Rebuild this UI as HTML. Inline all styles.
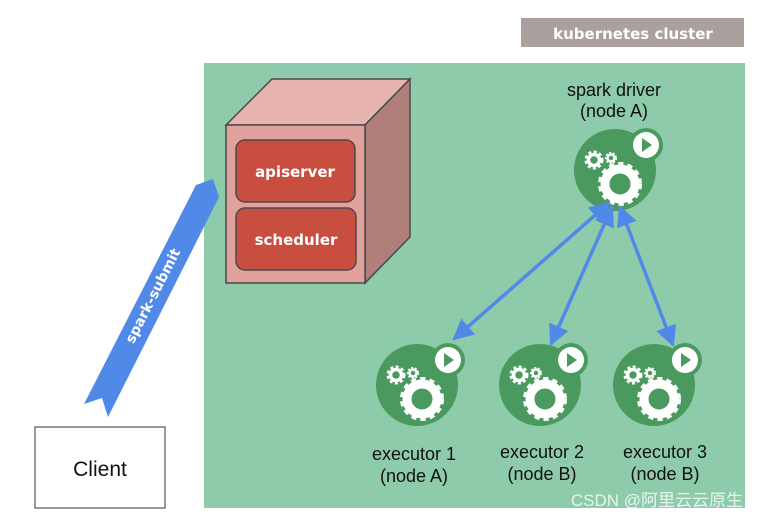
<!DOCTYPE html>
<html><head><meta charset="utf-8"><style>
html,body{margin:0;padding:0;background:#fff;}
svg{display:block;}
text{font-family:"Liberation Sans",sans-serif;}
</style></head><body>
<svg width="758" height="520" viewBox="0 0 758 520" xmlns="http://www.w3.org/2000/svg">
<defs>
<g id="node">
  <circle cx="0" cy="0" r="41" fill="#4a9a60"/>
  <circle cx="31" cy="-25" r="17" fill="#4a9a60"/>
  <circle cx="31" cy="-25" r="13" fill="#fff"/>
  <polygon points="27,-32 27,-18 37,-25" fill="#4a9a60"/>
  <circle cx="5" cy="14" r="15" fill="none" stroke="#fff" stroke-width="9"/>
  <circle cx="5" cy="14" r="19.5" fill="none" stroke="#fff" stroke-width="5" stroke-dasharray="5 4"/>
  <circle cx="-21" cy="-10" r="5.5" fill="none" stroke="#fff" stroke-width="3.5"/>
  <circle cx="-21" cy="-10" r="8" fill="none" stroke="#fff" stroke-width="3" stroke-dasharray="3 2.3"/>
  <circle cx="-4" cy="-12" r="3.5" fill="none" stroke="#fff" stroke-width="2.5"/>
  <circle cx="-4" cy="-12" r="5" fill="none" stroke="#fff" stroke-width="2" stroke-dasharray="2 1.6"/>
</g>
<marker id="ah" viewBox="0 0 10 10" refX="9" refY="5" markerWidth="6" markerHeight="6" orient="auto-start-reverse" markerUnits="strokeWidth">
  <path d="M0,0 L10,5 L0,10 z" fill="#5189e8"/>
</marker>
</defs>
<rect x="521" y="18" width="223" height="29" fill="#aaa09e"/>
<text x="633" y="39" text-anchor="middle" fill="#fff" font-size="15" font-weight="bold" style="font-family:'DejaVu Sans',sans-serif">kubernetes cluster</text>
<rect x="204" y="63" width="541" height="445" fill="#8ecbab"/>
<polygon points="226,125 272,79 410,79 365,125" fill="#e6b3af" stroke="#4a4a4a" stroke-width="1.5"/>
<polygon points="365,125 410,79 410,237 365,283" fill="#b07f7a" stroke="#4a4a4a" stroke-width="1.5"/>
<rect x="226" y="125" width="139" height="158" fill="#e1a19c" stroke="#4a4a4a" stroke-width="1.5"/>
<rect x="236" y="140" width="119" height="62" rx="9" fill="#c84e40" stroke="#4a4a4a" stroke-width="1.5"/>
<rect x="236" y="208" width="120" height="62" rx="9" fill="#c84e40" stroke="#4a4a4a" stroke-width="1.5"/>
<text x="295" y="177" text-anchor="middle" fill="#fff" font-size="15" font-weight="bold" style="font-family:'DejaVu Sans',sans-serif">apiserver</text>
<text x="296" y="245" text-anchor="middle" fill="#fff" font-size="15" font-weight="bold" style="font-family:'DejaVu Sans',sans-serif">scheduler</text>
<polygon points="196,185 213,179 219,197 108,417 102,398 84,404" fill="#5189e8"/>
<text transform="translate(157,298) rotate(-63)" text-anchor="middle" fill="#fff" font-size="14" font-weight="bold" style="font-family:'DejaVu Sans',sans-serif">spark-submit</text>
<rect x="35" y="427" width="130" height="81" fill="#fff" stroke="#555" stroke-width="1.2"/>
<text x="100" y="476" text-anchor="middle" font-size="21" fill="#111">Client</text>
<text x="614" y="96" text-anchor="middle" font-size="18" fill="#111">spark driver</text>
<text x="614" y="117" text-anchor="middle" font-size="18" fill="#111">(node A)</text>
<use href="#node" x="615" y="170"/>
<use href="#node" x="417" y="385"/>
<use href="#node" x="540" y="385"/>
<use href="#node" x="654" y="385"/>
<g stroke="#5189e8" stroke-width="3.5" fill="none">
<line x1="609" y1="203" x2="454" y2="339" marker-start="url(#ah)" marker-end="url(#ah)"/>
<line x1="612" y1="207" x2="551" y2="344" marker-start="url(#ah)" marker-end="url(#ah)"/>
<line x1="620" y1="207" x2="673" y2="345" marker-start="url(#ah)" marker-end="url(#ah)"/>
</g>
<g font-size="18" fill="#111" text-anchor="middle">
<text x="414" y="460">executor 1</text><text x="414" y="482">(node A)</text>
<text x="542" y="458">executor 2</text><text x="542" y="480">(node B)</text>
<text x="665" y="458">executor 3</text><text x="665" y="480">(node B)</text>
</g>
<text x="743" y="506" text-anchor="end" font-size="17" fill="#fff" fill-opacity="0.8" style="font-family:'Liberation Sans','Noto Sans CJK SC',sans-serif">CSDN @阿里云云原生</text>
</svg>
</body></html>
